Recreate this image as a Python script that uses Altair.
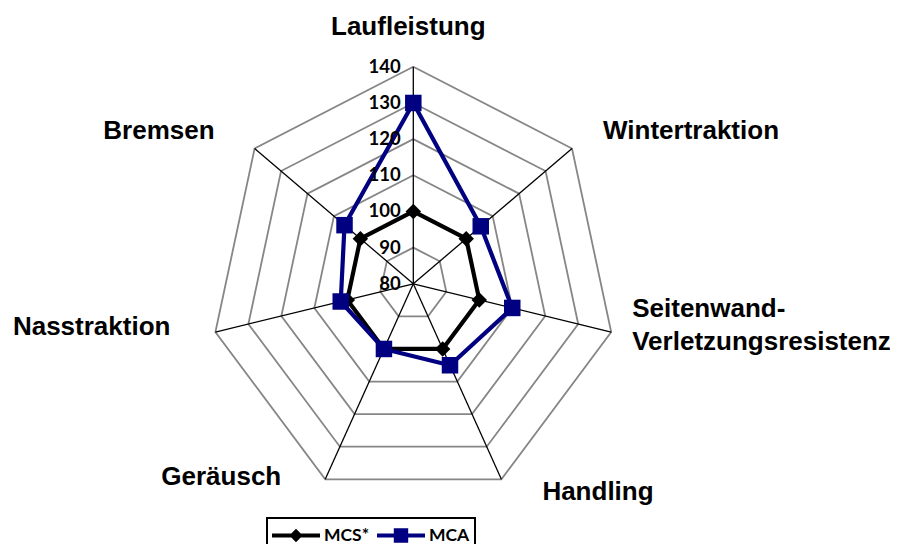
import math
import altair as alt
import pandas as pd

# ---------------- data ----------------
categories = ["Laufleistung", "Wintertraktion", "Seitenwand-\nVerletzungsresistenz",
              "Handling", "Geräusch", "Nasstraktion", "Bremsen"]
series_names = ["MCS*", "MCA"]
mcs_values = [100, 100, 100, 100, 100, 100, 100]
mca_values = [130, 105.5, 110, 105, 100, 102, 106]
ring_values = [90, 100, 110, 120, 130, 140]
tick_values = [80, 90, 100, 110, 120, 130, 140]
r_min, r_max = 80, 140

# ---------------- styling ----------------
series_colors = ["#000000", "#000080"]
series_shapes = ["diamond", "square"]
legend_paths = [
    "M-1,-0.085H1V0.085H-1Z M0,-0.28L0.28,0L0,0.28L-0.28,0Z",
    "M-1,-0.085H1V0.085H-1Z M-0.3,-0.3H0.3V0.3H-0.3Z",
]
# label placement (align, dx, dy in px relative to outer vertex)
label_style = [
    ("center", -5, -32),
    ("left", 31, -10),
    ("left", 21, -15),
    ("left", 41, 21),
    ("right", -44, 6),
    ("right", -45, 3),
    ("right", -40, -10),
]

n = len(categories)


def polar(k, v):
    r = (v - r_min) / (r_max - r_min)
    a = 2 * math.pi * k / n
    return r * math.sin(a), r * math.cos(a)


rows = []
for name, vals in zip(series_names, [mcs_values, mca_values]):
    for k in range(n + 1):
        v = vals[k % n]
        x, y = polar(k % n, v)
        rows.append({"series": name, "k": k, "value": v, "x": x, "y": y})
series_df = pd.DataFrame(rows)

ring_rows = []
for rv in ring_values:
    for k in range(n + 1):
        x, y = polar(k % n, rv)
        ring_rows.append({"ring": rv, "k": k, "x": x, "y": y})
ring_df = pd.DataFrame(ring_rows)

spoke_rows = []
for k in range(n):
    x, y = polar(k, r_max)
    spoke_rows.append({"k": k, "x": 0.0, "y": 0.0, "x2": x, "y2": y})
spoke_df = pd.DataFrame(spoke_rows)

tick_rows = []
for tv in tick_values:
    x, y = polar(0, tv)
    tick_rows.append({"label": str(tv), "x": x, "y": y})
tick_df = pd.DataFrame(tick_rows)

label_rows = []
for k, c in enumerate(categories):
    x, y = polar(k, r_max)
    label_rows.append({"k": k, "category": c, "x": x, "y": y})
label_df = pd.DataFrame(label_rows)

# ---------------- scales ----------------
xs = alt.Scale(domain=[-1.9966, 2.3483], nice=False, zero=False)
ys = alt.Scale(domain=[-1.1991, 1.2710], nice=False, zero=False)
X = alt.X("x:Q", scale=xs, axis=None)
Y = alt.Y("y:Q", scale=ys, axis=None)

rings = alt.Chart(ring_df).mark_line(color="#868686", strokeWidth=1.8).encode(
    x=X, y=Y, detail="ring:N", order="k:Q")

spokes = alt.Chart(spoke_df).mark_rule(color="#000000", strokeWidth=1.3).encode(
    x=X, y=Y, x2="x2:Q", y2="y2:Q")

layers = [rings, spokes]
for name, col, shp in zip(series_names, series_colors, series_shapes):
    sub = series_df[series_df.series == name]
    layers.append(alt.Chart(sub).mark_line(color=col, strokeWidth=4.2, strokeJoin="round").encode(
        x=X, y=Y, order="k:Q"))
    layers.append(alt.Chart(sub[sub.k < n]).mark_point(
        shape=shp, filled=True, color=col, opacity=1,
        size=240 if shp == "diamond" else 272).encode(x=X, y=Y))

leg = alt.Legend(title=None, orient="none", legendX=259, legendY=510,
                 direction="horizontal", symbolSize=2304, symbolStrokeWidth=0,
                 clipHeight=25, labelFont="Lato", labelFontSize=17.5,
                 labelFontWeight="bold", labelColor="#000000", labelOffset=4,
                 columnPadding=7, padding=5, strokeColor="#000000",
                 symbolOpacity=1, fillColor="#ffffff")
legend_layer = alt.Chart(series_df[series_df.k == 0]).mark_point(
    filled=True, size=0, opacity=1).encode(
    x=X, y=Y,
    color=alt.Color("series:N", scale=alt.Scale(domain=series_names, range=series_colors), legend=leg),
    shape=alt.Shape("series:N", scale=alt.Scale(domain=series_names, range=legend_paths), legend=leg),
)
layers.append(legend_layer)

ticks = alt.Chart(tick_df).mark_text(
    align="right", baseline="middle", dx=-12.5, font="Lato", fontSize=18.5,
    fontWeight="bold", color="#000000").encode(x=X, y=Y, text="label:N")
layers.append(ticks)

for k, (al, dx, dy) in enumerate(label_style):
    layers.append(alt.Chart(label_df[label_df.k == k]).mark_text(
        align=al, baseline="alphabetic", dx=dx, dy=dy, font="Liberation Sans",
        fontSize=26, fontWeight="bold", color="#000000", lineBreak="\n",
        lineHeight=32.7).encode(x=X, y=Y, text="category:N"))

chart = alt.layer(*layers).properties(
    width=882, height=536, padding=0,
    autosize=alt.AutoSizeParams(type="none"),
    background="#ffffff",
).configure_view(stroke=None).configure_legend(strokeWidth=2)

chart.save("out.html", embed_options={"renderer": "svg", "actions": False})
